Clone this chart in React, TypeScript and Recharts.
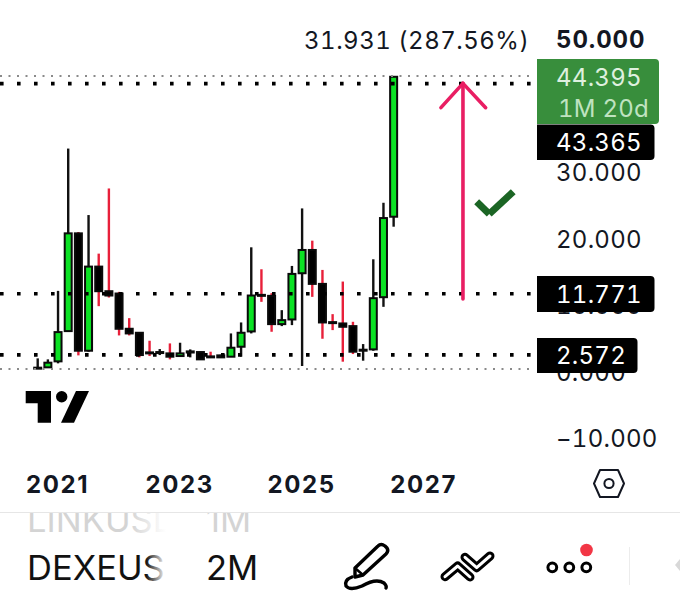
import { ComposedChart, Bar, XAxis, YAxis, ReferenceLine } from 'recharts';

const periods = [
  '2020-09', '2020-11', '2021-01', '2021-03', '2021-05', '2021-07', '2021-09', '2021-11', '2022-01',
  '2022-03', '2022-05', '2022-07', '2022-09', '2022-11', '2023-01', '2023-03', '2023-05', '2023-07',
  '2023-09', '2023-11', '2024-01', '2024-03', '2024-05', '2024-07', '2024-09', '2024-11', '2025-01',
  '2025-03', '2025-05', '2025-07', '2025-09', '2025-11', '2026-01', '2026-03', '2026-05', '2026-07',
];
const opens = [
  0.55, 0.7, 1.6, 6.15, 20.85, 3.2, 15.85, 12.15, 11.8, 6.5, 5.9, 2.95, 2.9, 2.8, 2.4, 2.93, 3.0, 2.35,
  2.2, 2.3, 3.8, 6.1, 11.6, 11.45, 7.2, 7.9, 14.85, 18.35, 13.25, 7.5, 7.3, 6.9, 3.25, 3.4, 11.25, 23.35,
];
const closes = [
  0.65, 1.4, 6.0, 20.85, 3.2, 15.85, 12.15, 11.5, 6.5, 5.8, 2.55, 2.85, 3.0, 2.3, 2.8, 3.1, 1.9, 2.25,
  2.5, 3.65, 5.9, 11.5, 11.55, 7.2, 7.8, 14.75, 18.35, 13.25, 7.45, 7.4, 6.8, 3.05, 3.35, 11.1, 23.15, 44.395,
];
const highs = [
  2.05, 1.9, 12.2, 33.6, 21.05, 23.6, 17.8, 27.6, 12.05, 8.1, 6.0, 4.7, 3.45, 4.3, 4.4, 3.4, 3.05, 3.05,
  2.6, 5.8, 7.45, 18.75, 15.45, 11.85, 9.3, 15.95, 24.6, 19.75, 15.35, 8.7, 13.6, 7.55, 4.2, 16.95, 25.45, 44.5,
];
const lows = [
  0.5, 0.6, 1.3, 6.1, 2.5, 3.05, 9.9, 11.2, 5.5, 5.5, 2.2, 2.4, 2.55, 1.9, 2.3, 2.2, 1.85, 2.1,
  2.2, 2.3, 2.3, 5.8, 10.55, 6.05, 6.9, 7.05, 0.9, 11.3, 5.0, 6.3, 1.55, 2.7, 1.7, 3.2, 9.8, 21.85,
];

const yearTicks = [2021, 2023, 2025, 2027];
const priceTicks = [50, 30, 20, 10, 0, -10];
const levelLines = [43.365, 11.771, 2.572];
const rangeLines = [44.5, 0.45];

const X_DOMAIN = [2020.0556, 2028.84];
const Y_DOMAIN = [-13.233, 55.94];
const LINE_END = 2028.76;

// drawn annotations, in [year, price]
const arrowShaft = [[2027.643, 10.98], [2027.643, 43.4]];
const arrowLeft = [[2027.282, 39.75], [2027.643, 43.4]];
const arrowRight = [[2028.015, 39.75], [2027.643, 43.4]];
const checkShort = [[2027.868, 25.6], [2028.074, 23.76]];
const checkLong = [[2028.074, 23.76], [2028.467, 27.11]];

const data = periods.map((p, i) => {
  const [y, m] = p.split('-').map(Number);
  return {
    time: y + (m - 1) / 12,
    open: opens[i],
    close: closes[i],
    high: highs[i],
    low: lows[i],
  };
});

const FONT = 'Inter, "Noto Sans", sans-serif';
const INK = '#131722';
const PINK = '#e91e63';
const CHECK = '#1b6524';
const numStyle = { fontVariantNumeric: 'tabular-nums', letterSpacing: 0.25 };

const Candle = (props: any) => {
  const { x, y, width, height, payload } = props;
  const { open, close, high, low } = payload;
  const up = close >= open;
  const h = Math.abs(height);
  const top = Math.min(y, y + height);
  const ppu = h / (high - low);
  const bodyTop = top + (high - Math.max(open, close)) * ppu;
  const bodyH = Math.max(Math.abs(open - close) * ppu, 1);
  const cx = x + width / 2;
  return (
    <g>
      <line x1={cx} x2={cx} y1={top} y2={top + h} stroke={up ? '#111' : '#e8203a'} strokeWidth={2.4} />
      <rect
        x={x + 1}
        y={bodyTop}
        width={width - 2}
        height={bodyH}
        fill={up ? '#0be224' : '#000'}
        stroke="#0a0a0a"
        strokeWidth={2}
      />
    </g>
  );
};

const PriceTick = (props: any) => {
  const { x, y, payload } = props;
  const v = payload.value;
  const label = (v < 0 ? '\u2212' : '') + Math.abs(v).toFixed(3);
  return (
    <text
      x={x}
      y={y}
      dy="0.36em"
      textAnchor="start"
      fontFamily={FONT}
      fontSize={24}
      fontWeight={v === 50 ? 700 : 400}
      fill={INK}
      style={v === 50 ? { ...numStyle, letterSpacing: 0.9 } : numStyle}
    >
      {label}
    </text>
  );
};

const YearTick = (props: any) => {
  const { x, y, payload } = props;
  return (
    <text
      x={x}
      y={y}
      dy={31}
      textAnchor="middle"
      fontFamily={FONT}
      fontSize={24}
      fontWeight={700}
      fill={INK}
      style={{ letterSpacing: 1.6 }}
    >
      {payload.value}
    </text>
  );
};

const Tag = ({ top, right, bottom, label }: any) => (
  <g>
    <path
      d={`M537 ${top} H${right - 4} Q${right} ${top} ${right} ${top + 4} V${bottom - 4} Q${right} ${bottom} ${right - 4} ${bottom} H537 Z`}
      fill="#000"
    />
    <text x={556} y={(top + bottom) / 2} dy="0.36em" fontFamily={FONT} fontSize={24} fill="#fff" style={numStyle}>
      {label}
    </text>
  </g>
);

const segment = (pts: number[][]) => pts.map(([x, y]) => ({ x, y }));

const App = () => {
  return (
    <div style={{ position: 'absolute', left: 0, top: 0, width: 680, height: 599, background: '#fff' }}>
      <ComposedChart width={680} height={599} data={data} margin={{ top: 0, right: 0, bottom: 0, left: 0 }}>
        <XAxis
          dataKey="time"
          type="number"
          domain={X_DOMAIN}
          ticks={yearTicks}
          height={139}
          axisLine={false}
          tickLine={false}
          tickSize={0}
          interval={0}
          tick={<YearTick />}
          allowDataOverflow
        />
        <YAxis
          orientation="right"
          domain={Y_DOMAIN}
          ticks={priceTicks}
          width={144}
          axisLine={false}
          tickLine={false}
          tickSize={0}
          tickMargin={20}
          interval={0}
          tick={<PriceTick />}
          allowDataOverflow
        />
        {rangeLines.map((v) => (
          <ReferenceLine
            key={v}
            segment={segment([[X_DOMAIN[0], v], [LINE_END, v]])}
            stroke="#8a8a8a"
            strokeWidth={2}
            strokeDasharray="2 6.5"
          />
        ))}
        {levelLines.map((v) => (
          <ReferenceLine
            key={v}
            segment={segment([[X_DOMAIN[0], v], [LINE_END, v]])}
            stroke="#000"
            strokeWidth={3.6}
            strokeDasharray="3.6 13.4"
          />
        ))}
        <Bar dataKey={(d: any) => [d.low, d.high]} barSize={9} isAnimationActive={false} shape={<Candle />} />
        {[arrowShaft, arrowLeft, arrowRight].map((s, i) => (
          <ReferenceLine key={i} segment={segment(s)} stroke={PINK} strokeWidth={3.6} strokeLinecap="round" />
        ))}
        {[checkShort, checkLong].map((s, i) => (
          <ReferenceLine key={i} segment={segment(s)} stroke={CHECK} strokeWidth={7} />
        ))}
      </ComposedChart>

      <svg
        width={680}
        height={599}
        style={{ position: 'absolute', left: 0, top: 0, pointerEvents: 'none' }}
      >
        <defs>
          <linearGradient id="fadeDark" gradientUnits="userSpaceOnUse" x1="146" x2="166" y1="0" y2="0">
            <stop offset="0" stopColor="#111" />
            <stop offset="1" stopColor="#111" stopOpacity="0" />
          </linearGradient>
          <linearGradient id="fadeLight" gradientUnits="userSpaceOnUse" x1="130" x2="166" y1="0" y2="0">
            <stop offset="0" stopColor="#d4d4d4" />
            <stop offset="1" stopColor="#d4d4d4" stopOpacity="0" />
          </linearGradient>
          <clipPath id="underRule">
            <rect x="0" y="513" width="680" height="86" />
          </clipPath>
          <clipPath id="symbolClip">
            <rect x="0" y="513" width="166" height="86" />
          </clipPath>
        </defs>

        <text x={304} y={48.5} fontFamily={FONT} fontSize={24} fill={INK} style={{ ...numStyle, letterSpacing: 0.5 }}>
          31.931 (287.56%)
        </text>

        <path d="M537 59 H655 Q659 59 659 63 V120 Q659 124 655 124 H537 Z" fill="#388e3c" />
        <text x={556} y={86} fontFamily={FONT} fontSize={24} fill="#dff0df" style={numStyle}>
          44.395
        </text>
        <text x={558} y={116.5} fontFamily={FONT} fontSize={24} fill="#bfe3c0" style={numStyle}>
          1M 20d
        </text>
        <Tag top={124.5} right={654.5} bottom={160} label="43.365" />
        <Tag top={276} right={654.5} bottom={312} label="11.771" />
        <Tag top={338} right={637.5} bottom={373} label="2.572" />

        {/* logo */}
        <path d="M25.7 391 H51 V422.7 H37.7 V403.3 H25.7 Z" fill="#000" />
        <circle cx={61.7} cy={396.7} r={5.7} fill="#000" />
        <path d="M76 391 H89 L74 422.7 H61 Z" fill="#000" />

        {/* settings hexagon */}
        <path d="M600 470 H618 L624 483.5 L618 497 H600 L594 483.5 Z" fill="none" stroke={INK} strokeWidth={2} strokeLinejoin="round" />
        <circle cx={609} cy={483.5} r={4.6} fill="none" stroke={INK} strokeWidth={2} />

        {/* toolbar */}
        <line x1={0} x2={680} y1={512.5} y2={512.5} stroke="#e6e6e6" strokeWidth={1} />
        <text x={27} y={532} clipPath="url(#symbolClip)" fontFamily={FONT} fontSize={34.5} fill="url(#fadeLight)">
          LINKUSD
        </text>
        <text x={206} y={532} clipPath="url(#underRule)" fontFamily={FONT} fontSize={34.5} fill="#d4d4d4">
          1M
        </text>
        <text x={27} y={580} clipPath="url(#symbolClip)" fontFamily={FONT} fontSize={34.5} fill="url(#fadeDark)">
          DEXEUSD
        </text>
        <text x={206} y={580} fontFamily={FONT} fontSize={34.5} fill="#111">
          2M
        </text>

        <g fill="none" stroke="#000" strokeWidth={3.4} strokeLinecap="round" strokeLinejoin="round">
          <path d="M355 577 L355 568 L378 546 Q381 543 385 546 L387 548 Q389 551 386 554 L363 575 Z" />
          <path d="M355 568 L363 575" strokeWidth={2.4} />
          <path d="M352 577 Q344 580 346 586 Q350 591 362 586 Q376 578 384 583 Q387 586 386 588" />
        </g>
        <g fill="none" strokeLinecap="round" strokeLinejoin="round">
          <path d="M445 576.7 L457.7 566 L470 577" stroke="#000" strokeWidth={9} />
          <path d="M445 576.7 L457.7 566 L470 577" stroke="#fff" strokeWidth={3} />
          <path d="M465 557.3 L476.7 567.7 L490 556" stroke="#000" strokeWidth={9} />
          <path d="M465 557.3 L476.7 567.7 L490 556" stroke="#fff" strokeWidth={3} />
        </g>
        <g fill="none" stroke="#000" strokeWidth={3}>
          <circle cx={552.3} cy={567.3} r={4.4} />
          <circle cx={569.3} cy={567.3} r={4.4} />
          <circle cx={586.3} cy={567.3} r={4.4} />
        </g>
        <circle cx={586.5} cy={550} r={6.3} fill="#f23645" />
        <line x1={629.5} x2={629.5} y1={547} y2={585} stroke="#ececec" strokeWidth={1} />
        <path d="M680 559 L675 565 L680 571 Z" fill="#d8d8d8" />
      </svg>
    </div>
  );
};

export default App;
